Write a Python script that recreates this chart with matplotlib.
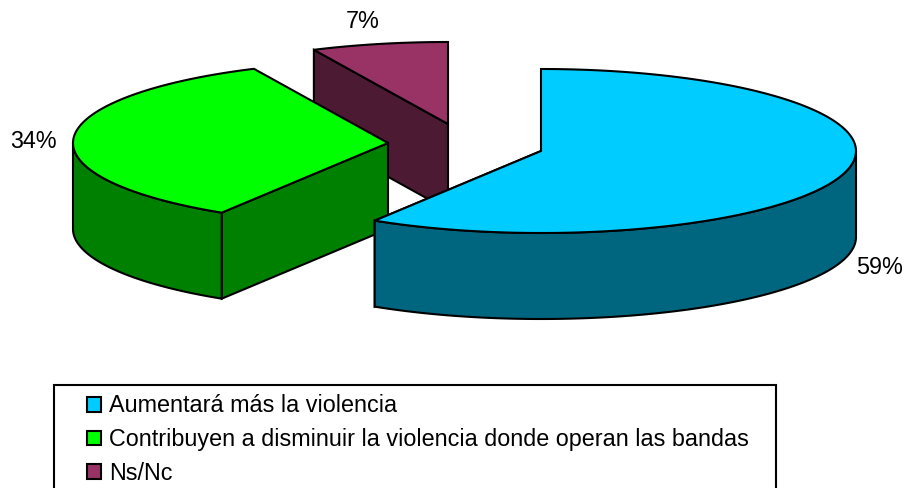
import numpy as np
from matplotlib import pyplot as plt
from matplotlib.patches import Patch, Polygon, Rectangle

labels = ['Aumentará más la violencia',
          'Contribuyen a disminuir la violencia donde operan las bandas',
          'Ns/Nc']
values = [58.85, 34.15, 7.0]  # print as 59/34/7
pct_labels = ['59%', '34%', '7%']
top_colors = ['#00CCFF', '#00FF00', '#993366']
side_colors = ['#006680', '#008000', '#4D1A33']

# exploded centres of each slice, in pixels
centers = [(541, 151), (388, 143), (448, 124)]
label_pos = [(880, 268), (33, 141), (363, 22)]
rx, ry = 315, 82
depth = 86

plt.rcParams['font.family'] = ['Liberation Sans', 'DejaVu Sans']

fig = plt.figure(figsize=(9.06, 4.88), dpi=100)
ax = fig.add_axes([0, 0, 1, 1])
ax.set_xlim(0, 906)
ax.set_ylim(488, 0)
ax.axis('off')

# angles run clockwise from 12 o'clock
edges = 90 - 3.6 * np.cumsum([0] + values)


def arc(c, a0, a1, dy=0):
    t = np.radians(np.linspace(a0, a1, 200))
    return np.column_stack([c[0] + rx * np.cos(t), c[1] - ry * np.sin(t) + dy])


def poly(pts, color, z):
    ax.add_patch(Polygon(pts, closed=True, facecolor=color, edgecolor='black',
                         linewidth=1.5, joinstyle='miter', zorder=z))


# back to front: purple, green, blue
for z, i in zip([1, 2, 3], [2, 1, 0]):
    c = np.array(centers[i], dtype=float)
    a0, a1 = edges[i], edges[i + 1]
    top = arc(c, a0, a1)
    down = np.array([0, depth])

    # flat cut face that looks at the viewer
    p = top[-1] if i == 0 else top[0]
    poly([c, p, p + down, c + down], side_colors[i], z)

    # outer wall, only the lower half of the ellipse shows
    if i == 0:
        outer = arc(c, 0, a1)
        poly(np.vstack([outer, (outer + down)[::-1]]), side_colors[i], z)
    elif i == 1:
        outer = arc(c, a0, -180)
        poly(np.vstack([outer, (outer + down)[::-1]]), side_colors[i], z)

    poly(np.vstack([c, top]), top_colors[i], z + 0.5)

for txt, (x, y) in zip(pct_labels, label_pos):
    ax.text(x, y, txt, ha='center', va='center', fontsize=16.8, color='black')

# legend box runs off the bottom of the picture
ax.add_patch(Rectangle((54, 385), 722, 112, facecolor='white', edgecolor='black',
                       linewidth=1.5, zorder=9))
handles = [Patch(facecolor=col, edgecolor='black', linewidth=1.5) for col in top_colors]
leg = ax.legend(handles, labels, loc='upper left', bbox_to_anchor=(87, 394.5),
                bbox_transform=ax.transData, fontsize=16.8, frameon=False,
                borderaxespad=0, borderpad=0, labelspacing=0.46,
                handlelength=0.6, handleheight=0.6, handletextpad=0.35)
leg.set_zorder(10)

fig.savefig('out.png', dpi=100)
